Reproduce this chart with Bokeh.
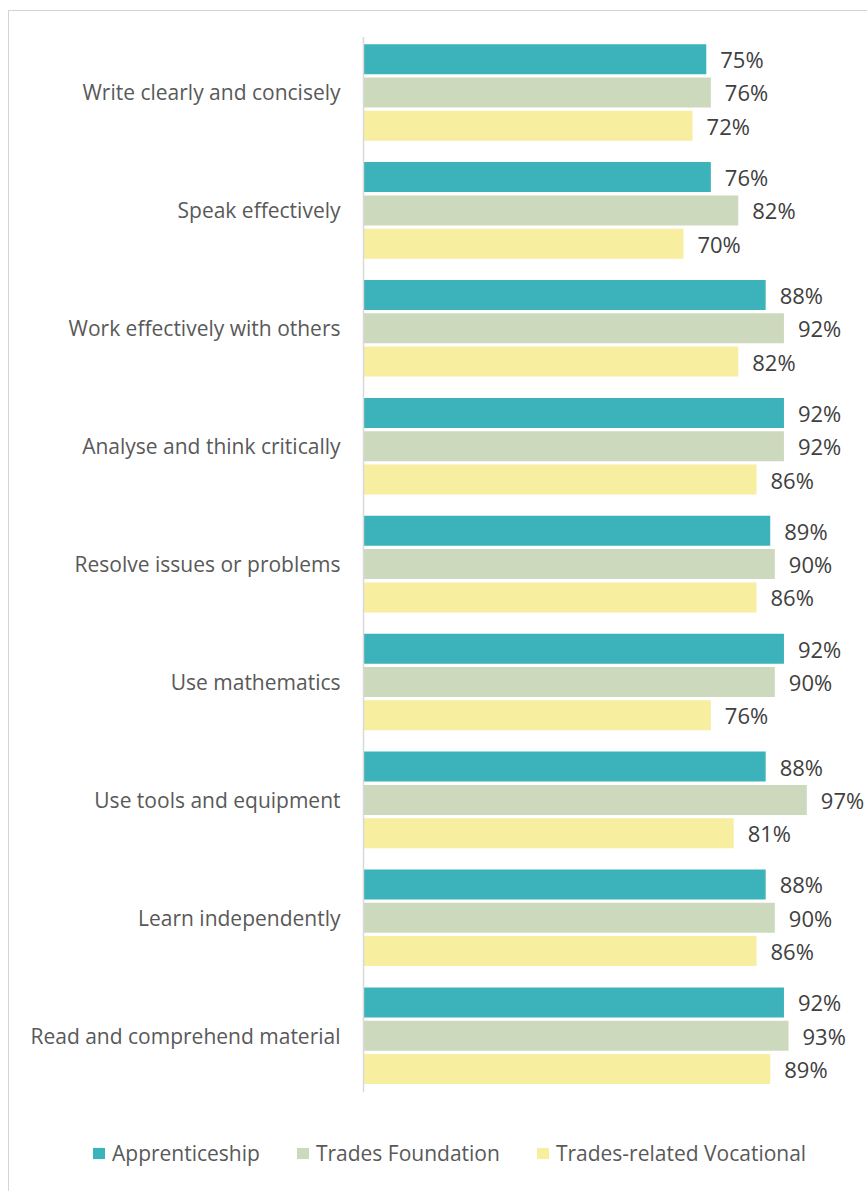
from bokeh.plotting import figure
from bokeh.models import ColumnDataSource, Range1d, Legend, LegendItem
from bokeh.transform import dodge
from bokeh.core.properties import value
from bokeh.embed import file_html
from bokeh.resources import INLINE

categories = [
    "Write clearly and concisely",
    "Speak effectively",
    "Work effectively with others",
    "Analyse and think critically",
    "Resolve issues or problems",
    "Use mathematics",
    "Use tools and equipment",
    "Learn independently",
    "Read and comprehend material",
]
apprenticeship = [75, 76, 88, 92, 89, 92, 88, 88, 92]
trades_foundation = [76, 82, 92, 92, 90, 90, 97, 90, 93]
trades_vocational = [72, 70, 82, 86, 86, 76, 81, 86, 89]
series_names = ["Apprenticeship", "Trades Foundation", "Trades-related Vocational"]
colors = ["#3CB2BA", "#CDD9BD", "#F7EEA0"]

n = len(categories)
src = ColumnDataSource(dict(
    cat=categories,
    idx=list(range(n)),
    zero=[0] * n,
    a=apprenticeship,
    f=trades_foundation,
    v=trades_vocational,
    a_lbl=[f"{x}%" for x in apprenticeship],
    f_lbl=[f"{x}%" for x in trades_foundation],
    v_lbl=[f"{x}%" for x in trades_vocational],
))

p = figure(
    width=859, height=1181,
    x_range=Range1d(-77.68, 110.28),
    y_range=Range1d(9.3215, -0.6955),
    output_backend="svg", toolbar_location=None,
    min_border=0, min_border_left=0, min_border_right=0, min_border_top=0, min_border_bottom=0,
)
p.margin = (10, 0, 0, 8)
p.border_fill_color = None
p.background_fill_color = None
p.outline_line_color = None
p.styles = {"box-shadow": "inset 1px 0 0 #d4d4d4, inset 0 1px 0 #d4d4d4"}
p.axis.visible = False
p.grid.grid_line_color = None

cols = ["a", "f", "v"]
offsets = [-0.2825, 0.0, 0.2825]
renderers = []
for c, off, col in zip(cols, offsets, colors):
    r = p.hbar(y=dodge("idx", off), right=c, left=0, height=0.2545,
               source=src, fill_color=col, line_color=None)
    renderers.append(r)
    p.text(x=c, y=dodge("idx", off), text=c + "_lbl", source=src,
           x_offset=14, text_baseline="middle", text_align="left",
           text_font=value("Open Sans"), text_font_size="22px", text_color="#404040")

# category axis line and labels
p.segment(x0=0, x1=0, y0=-0.47, y1=n - 0.52, line_color="#d9d9d9", line_width=1.5)
p.text(x="zero", y="idx", text="cat", source=src, x_offset=-23,
       text_align="right", text_baseline="middle",
       text_font=value("Open Sans"), text_font_size="21px", text_color="#595959")

legend = Legend(
    items=[LegendItem(label=s, renderers=[r]) for s, r in zip(series_names, renderers)],
    orientation="horizontal", location=(83, 24),
    glyph_width=15, glyph_height=14, label_standoff=6, spacing=35,
    label_height=20, padding=0, margin=0,
    border_line_color=None, background_fill_alpha=0,
    label_text_font="Open Sans", label_text_font_size="21px", label_text_color="#595959",
)
p.add_layout(legend)

open("out.html", "w").write(file_html(p, INLINE))
